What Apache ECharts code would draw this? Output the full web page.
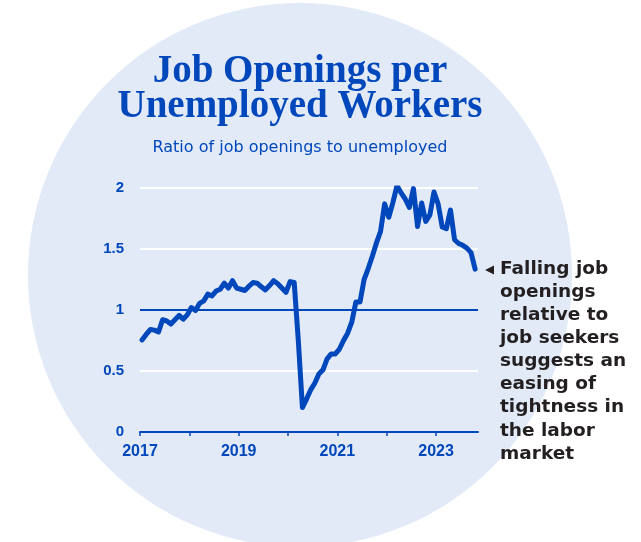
<!DOCTYPE html>
<html>
<head>
<meta charset="utf-8">
<script src="https://cdn.jsdelivr.net/npm/echarts@6/dist/echarts.min.js"></script>
<style>
html,body{margin:0;padding:0;background:#fff;}
#chart{width:641px;height:542px;}
</style>
</head>
<body>
<div id="chart"></div>
<script>
// Monthly ratio of job openings to unemployed, Jan 2017 – Oct 2023
const startYear = 2017;
const ratio = [
  0.755,0.80,0.84,0.835,0.82,0.92,0.91,0.885,0.92,0.955,0.925,0.96,      // 2017
  1.02,0.995,1.055,1.075,1.13,1.115,1.155,1.17,1.22,1.18,1.24,1.18,      // 2018
  1.17,1.16,1.195,1.225,1.22,1.19,1.165,1.20,1.24,1.215,1.18,1.145,      // 2019
  1.233,1.225,0.75,0.20,0.27,0.345,0.40,0.475,0.51,0.60,0.64,0.64,       // 2020
  0.68,0.75,0.81,0.90,1.065,1.065,1.25,1.34,1.44,1.55,1.645,1.87,        // 2021
  1.76,1.88,2.02,1.96,1.91,1.84,1.995,1.685,1.877,1.726,1.78,1.967,      // 2022
  1.87,1.68,1.666,1.82,1.576,1.545,1.53,1.507,1.47,1.335                 // 2023
];
const tickYears = [2017,2018,2019,2020,2021,2022,2023];
const labelYears = [2017,2019,2021,2023];
const yTicks = [0,0.5,1,1.5,2];
const titleLines = ['Job Openings per','Unemployed Workers'];
const subtitle = 'Ratio of job openings to unemployed';
const noteLines = ['Falling job','openings','relative to','job seekers','suggests an','easing of','tightness in','the labor','market'];

const BLUE = '#0047BB';
const points = ratio.map((v,i)=>[startYear + (i+0.5)/12, v]);

const chart = echarts.init(document.getElementById('chart'));
const graphics = [
  {type:'circle', shape:{cx:300, cy:275, r:272}, style:{fill:'#e2eaf8'}, z:-10, silent:true},
  {type:'text', x:300, y:72, style:{text:titleLines[0], fill:BLUE, font:'bold 39px "Liberation Serif"', textAlign:'center', textVerticalAlign:'middle'}},
  {type:'text', x:300, y:107, style:{text:titleLines[1], fill:BLUE, font:'bold 39px "Liberation Serif"', textAlign:'center', textVerticalAlign:'middle'}},
  {type:'text', x:300, y:148, style:{text:subtitle, fill:BLUE, font:'16px "DejaVu Sans"', textAlign:'center', textVerticalAlign:'middle'}},
  {type:'polygon', shape:{points:[[485,270],[494,265.5],[494,274.5]]}, style:{fill:'#231F20'}}
];
noteLines.forEach((t,k)=>{
  graphics.push({type:'text', x:500, y:269 + k*23.1, style:{text:t, fill:'#231F20', font:'bold 18.5px "DejaVu Sans"', textAlign:'left', textVerticalAlign:'middle'}});
});

chart.setOption({
  animation:false,
  grid:{left:140, right:163, top:188, bottom:110},
  xAxis:{
    type:'value', min:2017, max:2023.85, interval:1,
    axisLine:{show:true, onZero:false, lineStyle:{color:BLUE, width:2}},
    axisTick:{show:true, length:4, lineStyle:{color:BLUE, width:1.5}, customValues:tickYears},
    axisLabel:{color:BLUE, fontSize:16, fontWeight:'bold', fontFamily:'Liberation Sans', margin:12, customValues:labelYears, formatter:v=>String(v)},
    splitLine:{show:false}
  },
  yAxis:{
    type:'value', min:0, max:2, interval:0.5,
    axisLine:{show:false}, axisTick:{show:false},
    axisLabel:{color:BLUE, fontSize:15, fontWeight:'bold', fontFamily:'Liberation Sans', margin:16, customValues:yTicks},
    splitLine:{show:true, lineStyle:{color:['#ffffff','#ffffff',BLUE,'#ffffff','#ffffff'], width:2}}
  },
  series:[{
    type:'line', data:points, showSymbol:false, symbol:'none',
    lineStyle:{color:BLUE, width:5, cap:'round', join:'round'},
    z:5
  }],
  graphic:graphics
});
</script>
</body>
</html>
